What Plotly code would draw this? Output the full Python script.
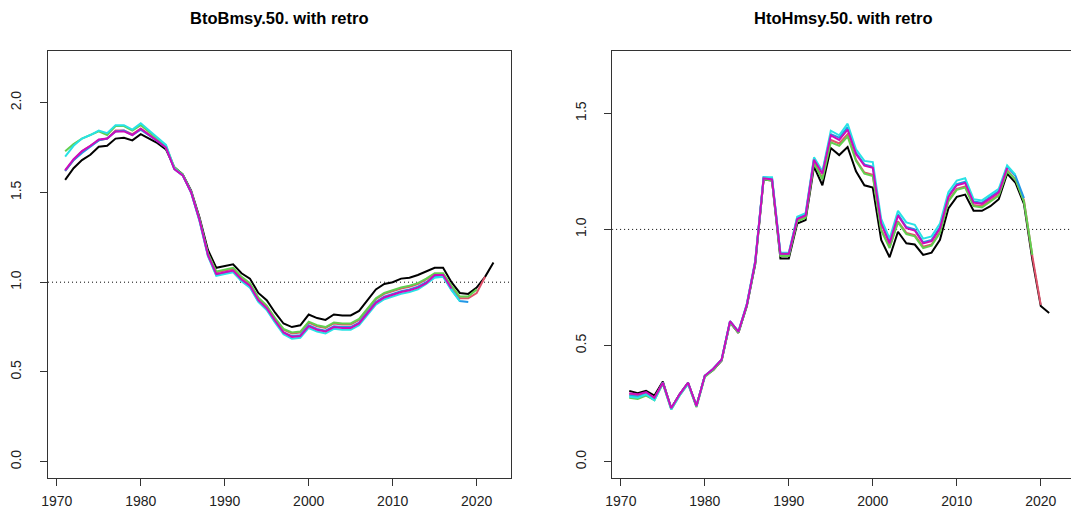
import plotly.graph_objects as go

# ---- B/Bmsy (median) with retrospective peels, 1971-2022 ----
b_years = list(range(1971, 2023))
b_full = [1.57, 1.635, 1.68, 1.71, 1.755, 1.76, 1.80, 1.805, 1.79, 1.825,
          1.80, 1.775, 1.74, 1.64, 1.60, 1.51, 1.36, 1.18, 1.08, 1.09,
          1.10, 1.05, 1.02, 0.94, 0.90, 0.83, 0.77, 0.75, 0.76, 0.82,
          0.80, 0.79, 0.82, 0.815, 0.815, 0.84, 0.90, 0.96, 0.99, 1.00,
          1.02, 1.025, 1.04, 1.06, 1.08, 1.08, 1.00, 0.94, 0.935, 0.97,
          1.03, 1.11]
b_peel1 = [1.62, 1.68, 1.73, 1.76, 1.79, 1.80, 1.845, 1.845, 1.825, 1.855,
           1.825, 1.79, 1.75, 1.635, 1.595, 1.505, 1.35, 1.16, 1.055, 1.065,
           1.075, 1.025, 0.99, 0.91, 0.865, 0.795, 0.735, 0.715, 0.72, 0.775,
           0.755, 0.745, 0.77, 0.765, 0.765, 0.79, 0.845, 0.905, 0.935, 0.95,
           0.965, 0.975, 0.99, 1.015, 1.045, 1.045, 0.975, 0.91, 0.91, 0.94,
           1.03]
b_peel2 = [1.73, 1.77, 1.80, 1.82, 1.84, 1.82, 1.87, 1.87, 1.845, 1.875,
           1.84, 1.80, 1.76, 1.64, 1.60, 1.505, 1.35, 1.16, 1.06, 1.07,
           1.08, 1.03, 0.995, 0.915, 0.87, 0.80, 0.74, 0.72, 0.725, 0.78,
           0.76, 0.75, 0.775, 0.77, 0.77, 0.795, 0.85, 0.91, 0.94, 0.955,
           0.97, 0.98, 0.995, 1.02, 1.05, 1.05, 0.98, 0.92, 0.92, 0.96]
b_peel3 = [1.62, 1.68, 1.72, 1.755, 1.79, 1.80, 1.84, 1.845, 1.82, 1.85,
           1.82, 1.785, 1.75, 1.63, 1.595, 1.50, 1.345, 1.15, 1.04, 1.05,
           1.06, 1.01, 0.975, 0.895, 0.85, 0.78, 0.72, 0.70, 0.705, 0.76,
           0.74, 0.73, 0.755, 0.75, 0.75, 0.775, 0.83, 0.89, 0.92, 0.935,
           0.95, 0.96, 0.975, 1.00, 1.035, 1.035, 0.96, 0.895, 0.89]
b_peel4 = [1.70, 1.76, 1.80, 1.82, 1.845, 1.83, 1.875, 1.875, 1.85, 1.885,
           1.845, 1.805, 1.765, 1.635, 1.595, 1.50, 1.34, 1.145, 1.035, 1.045,
           1.055, 1.005, 0.97, 0.89, 0.845, 0.775, 0.71, 0.685, 0.69, 0.745,
           0.725, 0.715, 0.74, 0.735, 0.735, 0.76, 0.815, 0.875, 0.905, 0.92,
           0.935, 0.945, 0.96, 0.99, 1.025, 1.03, 0.955, 0.895]
b_peel5 = [1.625, 1.685, 1.73, 1.76, 1.795, 1.80, 1.84, 1.84, 1.82, 1.855,
           1.82, 1.785, 1.75, 1.63, 1.595, 1.50, 1.345, 1.15, 1.045, 1.055,
           1.065, 1.015, 0.98, 0.90, 0.855, 0.785, 0.72, 0.695, 0.70, 0.755,
           0.735, 0.725, 0.75, 0.745, 0.745, 0.77, 0.825, 0.885, 0.915, 0.93,
           0.945, 0.955, 0.97, 0.995, 1.04, 1.04, 0.965]

# ---- H/Hmsy (median) with retrospective peels, 1971-2021 ----
h_years = list(range(1971, 2022))
h_full = [0.305, 0.295, 0.305, 0.285, 0.345, 0.23, 0.29, 0.34, 0.24, 0.37,
          0.395, 0.435, 0.60, 0.555, 0.67, 0.85, 1.215, 1.21, 0.875, 0.875,
          1.025, 1.04, 1.27, 1.19, 1.35, 1.32, 1.355, 1.25, 1.19, 1.18,
          0.955, 0.88, 0.99, 0.94, 0.935, 0.89, 0.90, 0.955, 1.09, 1.14,
          1.15, 1.08, 1.08, 1.10, 1.13, 1.24, 1.20, 1.11, 0.87, 0.67,
          0.64]
h_peel1 = [0.29, 0.285, 0.295, 0.275, 0.34, 0.23, 0.29, 0.34, 0.24, 0.37,
           0.395, 0.435, 0.60, 0.555, 0.675, 0.86, 1.22, 1.215, 0.89, 0.89,
           1.04, 1.055, 1.29, 1.22, 1.385, 1.37, 1.41, 1.30, 1.245, 1.235,
           1.00, 0.925, 1.035, 0.985, 0.975, 0.925, 0.935, 0.99, 1.125, 1.175,
           1.185, 1.105, 1.10, 1.125, 1.15, 1.255, 1.215, 1.125, 0.885, 0.675]
h_peel2 = [0.275, 0.27, 0.285, 0.265, 0.335, 0.225, 0.285, 0.335, 0.235, 0.365,
           0.395, 0.435, 0.60, 0.555, 0.67, 0.855, 1.215, 1.21, 0.885, 0.885,
           1.035, 1.05, 1.285, 1.215, 1.375, 1.36, 1.40, 1.295, 1.24, 1.23,
           0.995, 0.92, 1.03, 0.98, 0.97, 0.92, 0.93, 0.985, 1.12, 1.17,
           1.18, 1.10, 1.095, 1.12, 1.145, 1.25, 1.215, 1.12, 0.89]
h_peel3 = [0.285, 0.28, 0.29, 0.27, 0.34, 0.23, 0.29, 0.34, 0.24, 0.37,
           0.40, 0.44, 0.605, 0.56, 0.675, 0.86, 1.225, 1.22, 0.895, 0.895,
           1.05, 1.065, 1.305, 1.245, 1.41, 1.395, 1.44, 1.33, 1.28, 1.27,
           1.03, 0.945, 1.065, 1.01, 1.00, 0.945, 0.955, 1.01, 1.145, 1.195,
           1.205, 1.12, 1.115, 1.14, 1.165, 1.27, 1.23, 1.135]
h_peel4 = [0.28, 0.275, 0.29, 0.265, 0.34, 0.225, 0.285, 0.335, 0.24, 0.37,
           0.40, 0.44, 0.605, 0.56, 0.68, 0.865, 1.225, 1.225, 0.90, 0.90,
           1.055, 1.07, 1.31, 1.25, 1.425, 1.405, 1.455, 1.345, 1.295, 1.29,
           1.045, 0.96, 1.08, 1.03, 1.02, 0.96, 0.97, 1.025, 1.16, 1.21,
           1.22, 1.13, 1.125, 1.15, 1.175, 1.275, 1.235]
h_peel5 = [0.295, 0.29, 0.30, 0.275, 0.34, 0.23, 0.29, 0.34, 0.24, 0.37,
           0.40, 0.44, 0.605, 0.56, 0.675, 0.86, 1.22, 1.215, 0.895, 0.895,
           1.045, 1.06, 1.30, 1.24, 1.405, 1.385, 1.43, 1.325, 1.275, 1.265,
           1.025, 0.94, 1.06, 1.005, 0.995, 0.94, 0.95, 1.005, 1.14, 1.19,
           1.20, 1.115, 1.11, 1.135, 1.16, 1.265]

# R default palette, entries 1..6
palette = ["black", "#DF536B", "#61D04F", "#2297E6", "#28E2E5", "#CD0BBC"]

FONT = "Liberation Sans, Arial, sans-serif"
W, H = 1071, 511

fig = go.Figure()


def add_panel(years, series, xa, ya):
    for i, vals in enumerate(series):
        fig.add_trace(go.Scatter(
            x=years[:len(vals)], y=vals, mode="lines",
            line=dict(color=palette[i], width=2),
            xaxis=xa, yaxis=ya, showlegend=False, hoverinfo="skip"))


add_panel(b_years, [b_full, b_peel1, b_peel2, b_peel3, b_peel4, b_peel5], "x", "y")
add_panel(h_years, [h_full, h_peel1, h_peel2, h_peel3, h_peel4, h_peel5], "x2", "y2")

# panel placement in pixels
top, bottom = 51, 477.5
left1, right1 = 41.3, 506.9
left2 = 609.1
x_lo, x_hi = 1968.96, 2024.04
px_per_year = (right1 - left1) / (x_hi - x_lo)
x2_hi = x_lo + (W - left2) / px_per_year

ydom = [(H - bottom) / H, (H - top) / H]

axis_common = dict(
    showline=True, linecolor="#333", linewidth=1, ticks="outside",
    ticklen=7, tickwidth=1, tickcolor="#333", showgrid=False, zeroline=False,
    tickfont=dict(family=FONT, size=14, color="#222"),
)
xtick = dict(tickvals=[1970, 1980, 1990, 2000, 2010, 2020], mirror=True,
             ticklabelstandoff=4, **axis_common)
ytick = dict(tickformat=".1f", tickangle=-90, ticklabelstandoff=13,
             **axis_common)

fig.update_layout(
    width=W, height=H, margin=dict(l=0, r=0, t=0, b=0),
    paper_bgcolor="white", plot_bgcolor="white",
    xaxis=dict(domain=[left1 / W, right1 / W], range=[x_lo, x_hi],
               anchor="y", **xtick),
    yaxis=dict(domain=ydom, range=[-0.088, 2.288],
               tickvals=[0, 0.5, 1.0, 1.5, 2.0], mirror=True, anchor="x",
               **ytick),
    xaxis2=dict(domain=[left2 / W, 1.0], range=[x_lo, x2_hi],
                anchor="y2", **xtick),
    yaxis2=dict(domain=ydom, range=[-0.068, 1.768],
                tickvals=[0, 0.5, 1.0, 1.5], mirror=False, anchor="x2",
                **ytick),
)

# reference line at 1
for xa, ya, x0, x1 in [("x", "y", x_lo, x_hi), ("x2", "y2", x_lo, x2_hi)]:
    fig.add_shape(type="line", xref=xa, yref=ya, x0=x0, x1=x1, y0=1, y1=1,
                  line=dict(color="black", width=1, dash="1px,3px"),
                  layer="below")

# panel titles
for text, cx in [("BtoBmsy.50. with retro", (left1 + right1) / 2),
                 ("HtoHmsy.50. with retro", left2 + (right1 - left1) / 2)]:
    fig.add_annotation(text="<b>" + text + "</b>", xref="paper", yref="paper",
                       x=cx / W, y=1 - 18 / H, xanchor="center", yanchor="middle",
                       showarrow=False, font=dict(family=FONT, size=16.5, color="black"))

fig.write_html("out.html")
